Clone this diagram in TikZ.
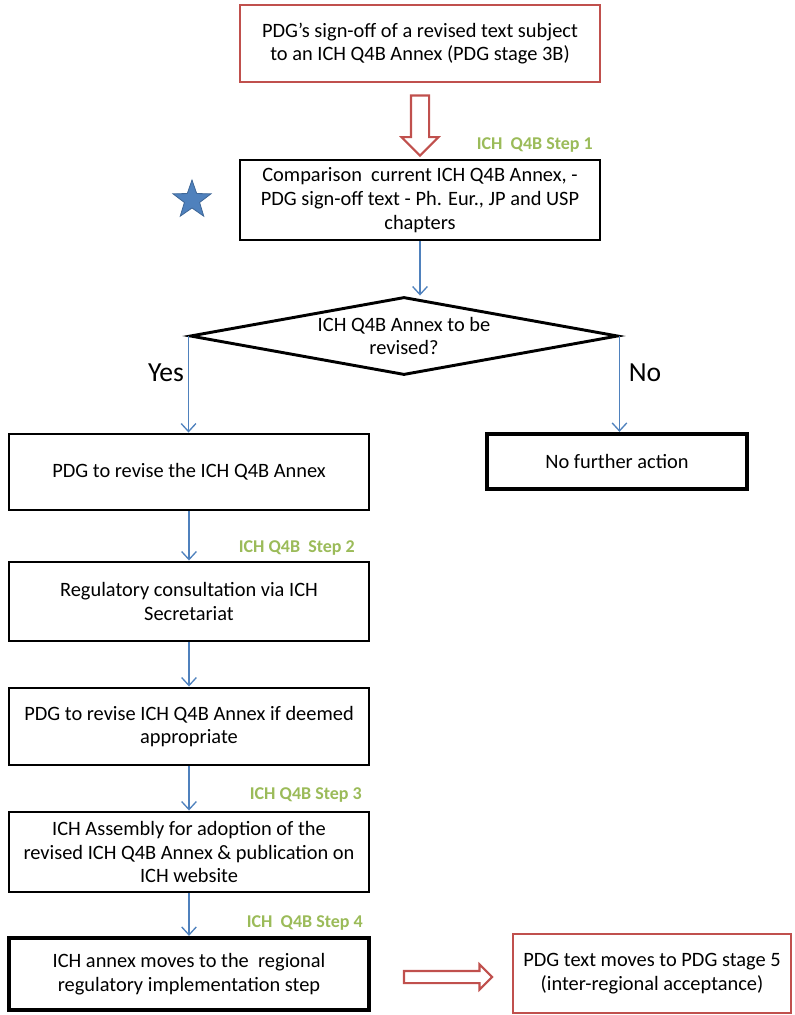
\documentclass[tikz,border=0pt]{standalone}
\usepackage{fontspec}
\setmainfont{Carlito}
\usetikzlibrary{shapes.geometric,shapes.arrows,arrows.meta,calc}
\definecolor{boxred}{RGB}{192,80,77}
\definecolor{flowblue}{RGB}{79,129,189}
\definecolor{stepgreen}{RGB}{155,187,89}
\tikzset{
  stepbox/.style={draw=black, line width=2.2pt, align=center, inner sep=2pt,
    font=\fontsize{15.3}{17.8}\selectfont},
  thickbox/.style={stepbox, line width=3.2pt},
  pdgbox/.style={stepbox, draw=boxred},
  flow/.style={draw=flowblue, line width=1pt, -{Straight Barb[length=6pt,width=11pt]}},
  steplabel/.style={anchor=east, text=stepgreen, inner sep=0pt,
    font=\fontsize{13.5}{16}\selectfont\bfseries},
  answer/.style={inner sep=0pt, font=\fontsize{20.7}{24}\selectfont},
  blockarr/.style={single arrow, draw=boxred, fill=white, line width=1.6pt,
    single arrow tip angle=90}
}
\begin{document}
\begin{tikzpicture}[x=0.75pt,y=-0.75pt]
\useasboundingbox (0,0) rectangle (795,1015);
% PDG side
\node[pdgbox, minimum width=270pt, minimum height=57.75pt] (signoff) at (420,43.5)
  {PDG's sign-off of a revised text subject\\ to an ICH Q4B Annex (PDG stage 3B)};
\node[stepbox, minimum width=270pt, minimum height=60pt] (compare) at (420,200)
  {Comparison\ \ current ICH Q4B Annex, -\\ PDG sign-off text - Ph. Eur., JP and USP\\ chapters};
\node[star, star points=5, star point ratio=2.5, minimum size=30pt, inner sep=0pt,
  fill=flowblue, draw=flowblue!80!black, line width=0.6pt] (mark) at (192,200) {};
% decision
\node[diamond, draw=black, line width=2.2pt, aspect=5.5, inner sep=0pt,
  minimum width=321pt, minimum height=58.5pt, align=center,
  font=\fontsize{15.3}{17.8}\selectfont] (decide) at (404,336)
  {ICH Q4B Annex to be\\ revised?};
\node[answer] (yes) at (166,373) {Yes};
\node[answer] (no) at (645,373) {No};
% ICH steps
\node[stepbox, minimum width=270pt, minimum height=57pt] (revise) at (189,472)
  {PDG to revise the ICH Q4B Annex};
\node[thickbox, minimum width=195pt, minimum height=41.25pt] (noaction) at (617,461.5)
  {No further action};
\node[stepbox, minimum width=270pt, minimum height=59.25pt] (consult) at (189,601.5)
  {Regulatory consultation via ICH\\ Secretariat};
\node[stepbox, minimum width=270pt, minimum height=57.75pt] (reviseb) at (189,726.5)
  {PDG to revise ICH Q4B Annex if deemed\\ appropriate};
\node[stepbox, minimum width=270pt, minimum height=60pt] (assembly) at (189,852)
  {ICH Assembly for adoption of the\\ revised ICH Q4B Annex \& publication on\\ ICH website};
\node[thickbox, minimum width=270pt, minimum height=54pt] (implement) at (189,974)
  {ICH annex moves to the\ \ regional\\ regulatory implementation step};
\node[pdgbox, minimum width=208.5pt, minimum height=59.25pt] (stage5) at (652,973.5)
  {PDG text moves to PDG stage 5\\ (inter-regional acceptance)};
% step labels
\node[steplabel] (step1) at (593,145) {ICH\ \ Q4B Step 1};
\node[steplabel] (step2) at (355,548) {ICH Q4B\ \ Step 2};
\node[steplabel] (step3) at (362,795) {ICH Q4B Step 3};
\node[steplabel] (step4) at (363,923) {ICH\ \ Q4B Step 4};
% block arrows
\node[blockarr, rotate=-90, minimum height=45pt, inner sep=6pt,
  single arrow head extend=7pt] (down) at ($(signoff.south)!0.5!(compare.north)$) {};
\node[blockarr, minimum height=66pt, inner sep=3.75pt,
  single arrow head extend=4.9pt] (right) at (445,977) {};
% connectors
\draw[flow] (compare.south) -- (compare.south |- decide.north);
\draw[flow] (decide.west) -- (decide.west |- revise.north);
\draw[flow] (decide.east) -- (decide.east |- noaction.north);
\draw[flow] (revise) -- (consult);
\draw[flow] (consult) -- (reviseb);
\draw[flow] (reviseb) -- (assembly);
\draw[flow] (assembly) -- (implement);
\end{tikzpicture}
\end{document}
